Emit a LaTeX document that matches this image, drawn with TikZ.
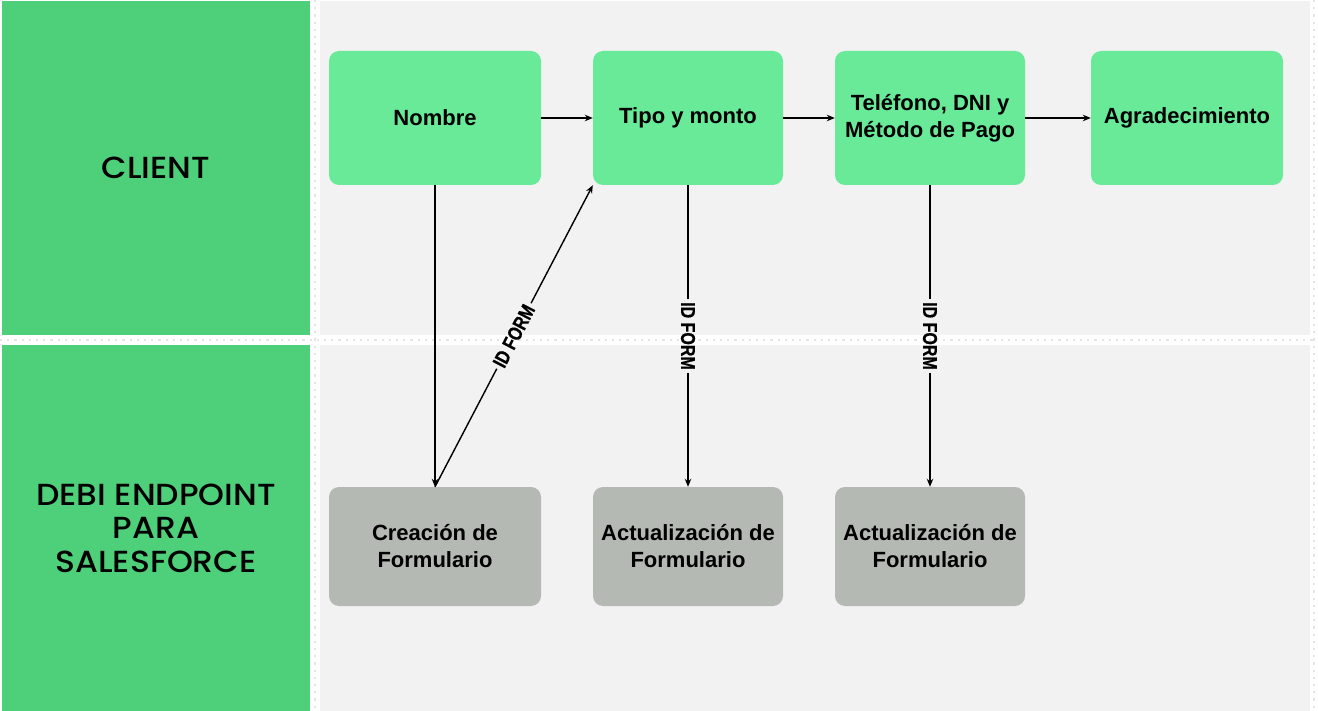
\documentclass[tikz,border=0pt]{standalone}
\usepackage{fontspec}
\setmainfont{Liberation Sans}
\newfontfamily\headfont{Poppins Medium}[FakeStretch=1.08]
\newfontfamily\idfont{Liberation Sans}[FakeStretch=0.8, FakeBold=0.6]
\usetikzlibrary{arrows.meta,calc}
\definecolor{lanegreen}{HTML}{4ECF79}
\definecolor{boxgreen}{HTML}{69EA99}
\definecolor{boxgray}{HTML}{B4B9B4}
\definecolor{panelgray}{HTML}{F2F2F2}
\definecolor{dotgray}{HTML}{E4E4E4}
\tikzset{
  greenbox/.style={fill=boxgreen, rounded corners=10pt, align=center, inner sep=0pt,
    font=\bfseries\fontsize{22}{27}\selectfont},
  graybox/.style={fill=boxgray, rounded corners=10pt, align=center, inner sep=0pt,
    font=\bfseries\fontsize{22}{27}\selectfont},
  headtext/.style={align=center, font=\headfont\fontsize{30.5}{33.5}\selectfont},
  idlabel/.style={inner sep=3pt, font=\idfont\bfseries\fontsize{20}{22}\selectfont},
  conn/.style={line width=1.4pt, black},
  arrowconn/.style={conn, -{Stealth[length=8pt,width=6.5pt]}},
  sepdots/.style={dotgray, line width=2.2pt, dash pattern=on 2.2pt off 5pt}
}
\begin{document}
\begin{tikzpicture}[x=1pt,y=-1pt]
\useasboundingbox (0,0) rectangle (1318,711);
\fill[white] (0,0) rectangle (1318,711);
% lanes
\fill[lanegreen] (2,1) rectangle (310,335);
\fill[lanegreen] (2,345) rectangle (310,711);
\fill[panelgray] (320,1) rectangle (1310,335);
\fill[panelgray] (320,345) rectangle (1310,711);
\draw[sepdots] (315,0) -- (315,711);
\draw[sepdots] (1314,0) -- (1314,711);
\draw[sepdots] (0,340) -- (1318,340);
% lane titles
\node[headtext] (client) at (156,168) {CLIENT};
\node[headtext] (debi) at (156,528) {DEBI ENDPOINT\\PARA\\SALESFORCE};
% client boxes
\node[greenbox, minimum width=212pt, minimum height=134pt] (nombre) at (435,118) {Nombre};
\node[greenbox, minimum width=190pt, minimum height=134pt] (tipo) at (688,118) {Tipo y monto};
\node[greenbox, minimum width=190pt, minimum height=134pt] (tel) at (930,118) {Teléfono, DNI y\\Método de Pago};
\node[greenbox, minimum width=192pt, minimum height=134pt] (agra) at (1187,118) {Agradecimiento};
% endpoint boxes
\node[graybox, minimum width=212pt, minimum height=119pt] (crea) at (435,546.5) {Creación de\\Formulario};
\node[graybox, minimum width=190pt, minimum height=119pt] (act1) at (688,546.5) {Actualización de\\Formulario};
\node[graybox, minimum width=190pt, minimum height=119pt] (act2) at (930,546.5) {Actualización de\\Formulario};
% horizontal flow
\draw[arrowconn] (nombre) -- (tipo);
\draw[arrowconn] (tipo) -- (tel);
\draw[arrowconn] (tel) -- (agra);
% down to creation
\draw[arrowconn] (nombre.south) -- (crea.north);
% ID FORM back up
\node[idlabel, rotate=62.4] (l1) at ($(crea.north)!0.5!(tipo.south west)$) {ID FORM};
\draw[conn] (crea.north) -- (l1);
\draw[arrowconn] (l1) -- (tipo.south west);
% updates
\node[idlabel, rotate=-90] (l2) at ($(tipo.south)!0.5!(act1.north)$) {ID FORM};
\draw[conn] (tipo.south) -- (l2);
\draw[arrowconn] (l2) -- (act1.north);
\node[idlabel, rotate=-90] (l3) at ($(tel.south)!0.5!(act2.north)$) {ID FORM};
\draw[conn] (tel.south) -- (l3);
\draw[arrowconn] (l3) -- (act2.north);
\end{tikzpicture}
\end{document}
